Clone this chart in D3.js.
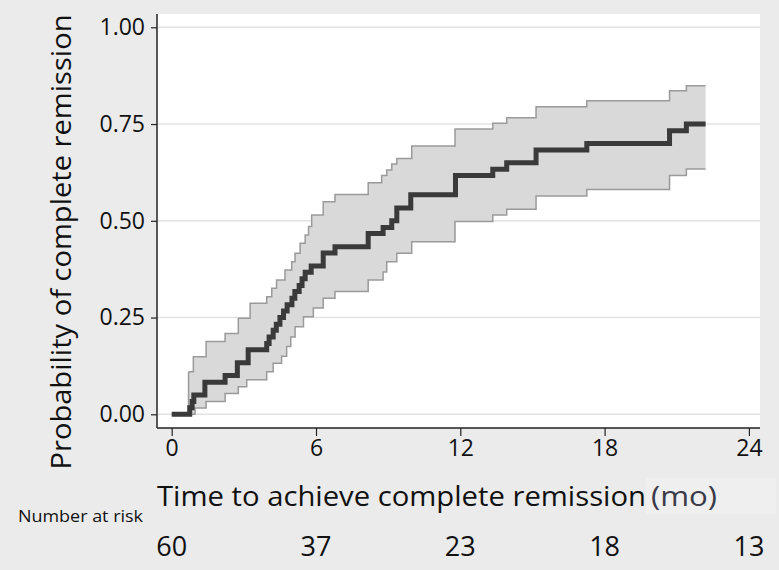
<!DOCTYPE html>
<html>
<head>
<meta charset="utf-8">
<script src="https://cdn.jsdelivr.net/npm/d3@7"></script>
<style>
  body { margin: 0; background: #ebebeb; }
  svg { display: block; font-family: "Open Sans", sans-serif; }
</style>
</head>
<body>
<div class="js-chart"></div>
<script>
// Kaplan-Meier estimate (cumulative probability of complete remission)
const kmTime = [0, 0.75, 0.85, 0.92, 1.38, 2.22, 2.73, 3.18, 3.95, 4.05, 4.22, 4.35, 4.5, 4.65, 4.8, 5.0, 5.12, 5.3, 5.42, 5.55,
  5.8, 6.3, 6.79, 8.17, 8.79, 9.15, 9.36, 9.94, 11.8, 13.35, 13.93, 15.15, 17.26, 20.7, 21.4];
const kmProb = [0, 0.017, 0.033, 0.05, 0.083, 0.10, 0.133, 0.167, 0.183, 0.2, 0.217, 0.233, 0.25, 0.267, 0.283, 0.30, 0.317, 0.333, 0.35, 0.367,
  0.383, 0.417, 0.433, 0.467, 0.483, 0.50, 0.533, 0.567, 0.617, 0.633, 0.65, 0.683, 0.70, 0.733, 0.75];

// 95% confidence band
const upTime = [0.7, 0.9, 1.43, 2.22, 2.77, 3.26, 3.95, 4.16, 4.36, 4.71, 4.99, 5.13, 5.34, 5.55, 5.69, 5.82, 6.3, 6.79, 8.17, 8.73,
  8.94, 9.15, 9.36, 9.98, 11.78, 13.35, 13.93, 15.15, 17.26, 20.7, 21.4];
const upVal = [0.11, 0.149, 0.188, 0.209, 0.248, 0.287, 0.304, 0.326, 0.347, 0.373, 0.394, 0.416, 0.442, 0.463, 0.485, 0.515, 0.549, 0.568, 0.598, 0.617,
  0.631, 0.647, 0.661, 0.693, 0.737, 0.752, 0.766, 0.795, 0.81, 0.836, 0.849];
const loTime = [0.7, 0.97, 1.43, 2.22, 2.77, 3.12, 3.95, 4.22, 4.57, 4.78, 4.95, 5.13, 5.48, 5.89, 6.3, 6.79, 8.17, 8.79, 8.94, 9.36,
  9.98, 11.78, 13.35, 13.93, 15.15, 17.26, 20.7, 21.4];
const loVal = [0, 0.016, 0.033, 0.054, 0.071, 0.089, 0.11, 0.132, 0.15, 0.175, 0.2, 0.226, 0.252, 0.275, 0.30, 0.317, 0.347, 0.368, 0.394, 0.416,
  0.446, 0.498, 0.515, 0.53, 0.564, 0.581, 0.617, 0.634];
const endTime = 22.2;

const xTicks = [0, 6, 12, 18, 24];
const yTicks = [0, 0.25, 0.5, 0.75, 1];
const atRisk = [60, 37, 23, 18, 13];

var width = 779, height = 570;
var svg = d3.select('.js-chart').append('svg')
  .attr('width', width)
  .attr('height', height);

var x = d3.scaleLinear().domain([0, 24]).range([171.7, 748.9]);
var y = d3.scaleLinear().domain([0, 1]).range([414.3, 27.3]);

// plot region
svg.append('rect')
  .attr('x', 157).attr('y', 14)
  .attr('width', 603).attr('height', 414)
  .attr('fill', '#fff');

// horizontal grid
svg.append('g').selectAll('line')
  .data(yTicks)
  .enter()
  .append('line')
  .attr('x1', 158).attr('x2', 760)
  .attr('y1', (d) => y(d)).attr('y2', (d) => y(d))
  .attr('stroke', '#e2e2e2')
  .attr('stroke-width', 1.5);

// step lookup, value in force at time t
function stepAt(times, vals, t) {
  let i = d3.bisectRight(times, t) - 1;
  return i < 0 ? vals[0] : vals[i];
}

function toPoints(times, vals) {
  let pts = times.map((t, i) => [t, vals[i]]);
  pts.push([endTime, vals[vals.length - 1]]);
  return pts;
}

// confidence band fill
var grid = Array.from(new Set(upTime.concat(loTime, [endTime]))).sort((a, b) => a - b);
var band = d3.area()
  .curve(d3.curveStepAfter)
  .x((t) => x(t))
  .y0((t) => y(stepAt(loTime, loVal, t)))
  .y1((t) => y(stepAt(upTime, upVal, t)));

svg.append('path')
  .datum(grid)
  .attr('d', band)
  .attr('fill', '#d9d9d9');

var step = d3.line()
  .curve(d3.curveStepAfter)
  .x((d) => x(d[0]))
  .y((d) => y(d[1]));

// band outlines
[[upTime, upVal], [loTime, loVal]].forEach((s) => {
  svg.append('path')
    .datum(toPoints(s[0], s[1]))
    .attr('d', step)
    .attr('fill', 'none')
    .attr('stroke', '#9a9a9a')
    .attr('stroke-width', 1.5);
});
svg.append('line')
  .attr('x1', x(upTime[0])).attr('x2', x(upTime[0]))
  .attr('y1', y(upVal[0])).attr('y2', y(loVal[0]))
  .attr('stroke', '#9a9a9a')
  .attr('stroke-width', 1.5);

// KM curve
svg.append('path')
  .datum(toPoints(kmTime, kmProb))
  .attr('d', step)
  .attr('fill', 'none')
  .attr('stroke', '#3a3a3a')
  .attr('stroke-width', 5);

// axes
var xAxis = svg.append('g')
  .attr('transform', 'translate(0,428)')
  .call(d3.axisBottom(x).tickValues(xTicks).tickSize(8).tickPadding(4));
var yAxis = svg.append('g')
  .attr('transform', 'translate(157,0)')
  .call(d3.axisLeft(y).tickValues(yTicks).tickSize(6).tickPadding(6).tickFormat(d3.format('.2f')));

[xAxis, yAxis].forEach((a) => {
  a.select('.domain').remove();
  a.selectAll('line').attr('stroke', '#222').attr('stroke-width', 1.2);
  a.selectAll('text')
    .attr('fill', '#111')
    .style('font-size', '23px')
    .style('font-family', '"Open Sans", sans-serif');
});

svg.append('line')
  .attr('x1', 157).attr('x2', 760)
  .attr('y1', 428).attr('y2', 428)
  .attr('stroke', '#222').attr('stroke-width', 1.5);
svg.append('line')
  .attr('x1', 157).attr('x2', 157)
  .attr('y1', 14).attr('y2', 428)
  .attr('stroke', '#222').attr('stroke-width', 1.5);

// axis titles
svg.append('text')
  .attr('transform', 'translate(71,242)rotate(-90)')
  .attr('text-anchor', 'middle')
  .attr('textLength', 455)
  .attr('lengthAdjust', 'spacingAndGlyphs')
  .style('font-size', '28px')
  .attr('fill', '#111')
  .text('Probability of complete remission');

svg.append('rect')
  .attr('x', 646).attr('y', 478)
  .attr('width', 130).attr('height', 36)
  .attr('fill', '#efefef');

svg.append('text')
  .attr('x', 157).attr('y', 506)
  .attr('textLength', 489)
  .attr('lengthAdjust', 'spacingAndGlyphs')
  .style('font-size', '28px')
  .attr('fill', '#111')
  .text('Time to achieve complete remission');

svg.append('text')
  .attr('x', 651).attr('y', 506)
  .attr('textLength', 66)
  .attr('lengthAdjust', 'spacingAndGlyphs')
  .style('font-size', '28px')
  .attr('fill', '#3a3a48')
  .text('(mo)');

// number at risk
svg.append('text')
  .attr('x', 18).attr('y', 522)
  .attr('textLength', 125)
  .attr('lengthAdjust', 'spacingAndGlyphs')
  .style('font-size', '16px')
  .attr('fill', '#111')
  .text('Number at risk');

svg.append('g').selectAll('text')
  .data(atRisk)
  .enter()
  .append('text')
  .attr('x', (d, i) => x(xTicks[i]))
  .attr('y', 556)
  .attr('text-anchor', 'middle')
  .style('font-size', '27px')
  .attr('fill', '#111')
  .text((d) => d);
</script>
</body>
</html>
